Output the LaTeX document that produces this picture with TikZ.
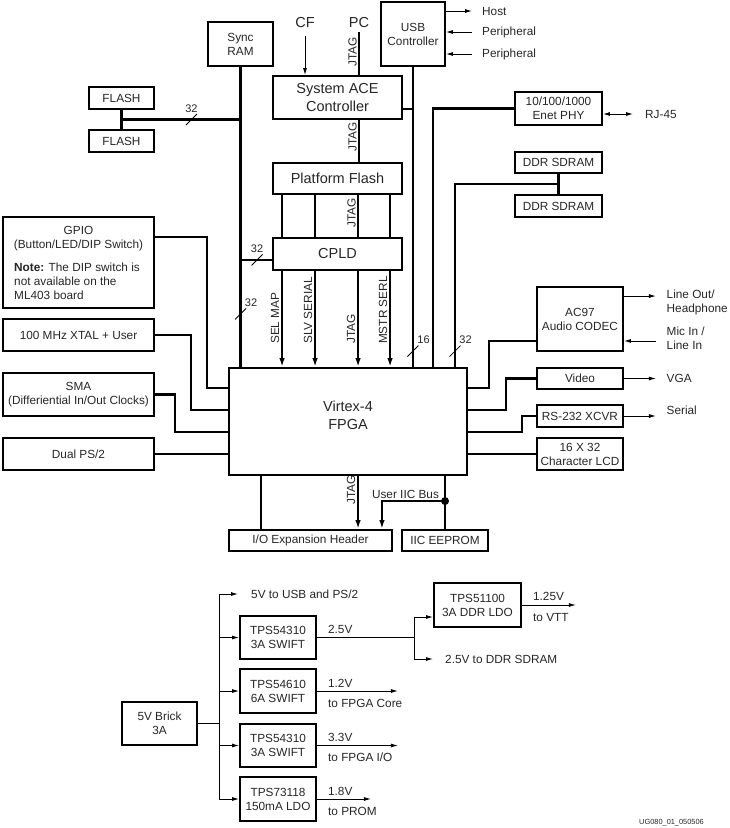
\documentclass[tikz,border=0pt]{standalone}
\usepackage{fontspec}
\setmainfont{Liberation Sans}
\usetikzlibrary{calc}
\usetikzlibrary{arrows.meta}

\tikzset{
	lbl/.style={inner sep=1pt, text=black!85, font=\fontsize{11.8}{14}\selectfont, align=center},
	big/.style={lbl, font=\fontsize{14.5}{18}\selectfont},
	blk/.style={draw, line width=1.9pt, lbl, inner sep=0pt},
	vlbl/.style={lbl, rotate=90, anchor=south west},
	sig/.style={line width=2.2pt},
	sigarr/.style={sig, -{Latex[length=9pt,width=5.5pt]}},
	thinarr/.style={line width=0.9pt, -{Latex[length=7pt,width=4pt]}},
	pw/.style={line width=0.9pt},
	pwarr/.style={pw, -{Latex[length=7pt,width=4pt]}},
	tick/.style={line width=0.8pt},
}

\begin{document}
\begin{tikzpicture}[x=1pt,y=-1pt]
	\useasboundingbox (0,0) rectangle (729,828);

	\node[blk, minimum width=65, minimum height=44]		(sram)	at (240.5,44)	{Sync\\RAM};
	\node[blk, big, minimum width=129, minimum height=43]	(ace)	at (337.5,97.5)	{System ACE\\Controller};
	\node[blk, minimum width=64, minimum height=64]		(usb)	at (413,34)		{USB\\Controller};
	\node[big]	(cf)	at (305,23)	{CF};
	\node[big]	(pc)	at (359,23)	{PC};
	\node[blk, minimum width=65, minimum height=22]		(flash1)	at (121.5,98)	{FLASH};
	\node[blk, minimum width=65, minimum height=22]		(flash2)	at (121.5,141)	{FLASH};
	\node[blk, minimum width=87, minimum height=33]		(enet)	at (558.5,108.5)	{10/100/1000\\Enet PHY};
	\node[blk, big, minimum width=129, minimum height=31]	(pflash)	at (337.5,178.5)	{Platform Flash};
	\node[blk, minimum width=87, minimum height=21]		(ddr1)	at (558.5,162.5)	{DDR SDRAM};
	\node[blk, minimum width=87, minimum height=22]		(ddr2)	at (558.5,206)	{DDR SDRAM};
	\node[blk, big, minimum width=129, minimum height=32]	(cpld)	at (337.5,254)	{CPLD};

	\node[blk, minimum width=151, minimum height=91]		(gpio)	at (78.5,262.5)	{};
	\node[lbl]	()	at (78.5,238.5)	{GPIO\\(Button/LED/DIP Switch)};
	\node[lbl, align=left, anchor=north west]	()	at (13,261.5)	{\textbf{Note:} The DIP switch is\\not available on the\\ML403 board};
	\node[blk, minimum width=151, minimum height=32]		(xtal)	at (78.5,335)	{100 MHz XTAL + User};
	\node[blk, minimum width=151, minimum height=43]		(sma)	at (78.5,394.5)	{SMA\\(Differiential In/Out Clocks)};
	\node[blk, minimum width=151, minimum height=32]		(ps2)	at (78.5,454)	{Dual PS/2};

	\node[blk, minimum width=238, minimum height=107]		(fpga)	at (348,421.5)	{};
	\node[big]	()	at (348,415)	{Virtex-4\\FPGA};

	\node[blk, minimum width=86, minimum height=64]		(ac97)	at (580,319)	{AC97\\Audio CODEC};
	\node[blk, minimum width=86, minimum height=21]		(video)	at (580,378.5)	{Video};
	\node[blk, minimum width=86, minimum height=22]		(rs232)	at (580,416)	{RS-232 XCVR};
	\node[blk, minimum width=86, minimum height=32]		(lcd)	at (580,454)	{16 X 32\\Character LCD};
	\node[blk, minimum width=163, minimum height=21]		(ioexp)	at (310.5,540.5)	{I/O Expansion Header};
	\node[blk, minimum width=86, minimum height=21]		(eeprom)	at (445,540.5)	{IIC EEPROM};

	% configuration path
	\draw[thinarr, shorten <=7pt] (cf) -- (cf |- ace.north);
	\draw[sig, shorten <=3pt] (pc) -- (pc |- ace.north);
	\node[vlbl] at ($(pc |- ace.north)+(-1,-7)$) {JTAG};
	\draw[sig] (pc |- ace.south) -- (pc |- pflash.north);
	\node[vlbl] at ($(pc |- pflash.north)+(-1,-9)$) {JTAG};

	\foreach \dx [count=\i] in {10,43,86,118} {
		\coordinate (pf\i) at ($(pflash.south west)+(\dx,0)$);
		\coordinate (cp\i) at ($(cpld.south west)+(\dx,0)$);
	}
	\foreach \i in {1,...,4} {
		\draw[sig] (pf\i) -- (pf\i |- cpld.north);
		\draw[sigarr] (cp\i) -- (cp\i |- fpga.north);
	}
	\node[vlbl] at ($(pf3 |- cpld.north)+(-1,-8)$) {JTAG};
	\foreach \i/\txt in {1/SEL MAP,2/SLV SERIAL,3/JTAG,4/MSTR SERL}
		\node[vlbl] at ($(cp\i |- fpga.north)+(-1.5,-22)$) {\txt};

	% memory buses
	\coordinate (fj) at ($(flash1.south)!.5!(flash2.north)$);
	\coordinate (cj) at ($(cpld.south west)+(0,-11)$);
	\draw[sig] (sram) -- (sram |- fpga.north);
	\draw[sig] (flash1) -- (flash2);
	\draw[sig] (fj) -- (fj -| sram);
	\draw[sig] (cj) -- (cj -| sram);

	\coordinate (aj) at ($(ace.south east)+(0,-11)$);
	\coordinate (fu) at (usb |- fpga.north);
	\coordinate (fe) at ($(fpga.north west)+(205,0)$);
	\coordinate (fd) at ($(fpga.north west)+(227,0)$);
	\coordinate (dj) at ($(ddr1.south)!.5!(ddr2.north)$);
	\draw[sig] (aj) -- (aj -| usb);
	\draw[sig] (usb) -- (fu);
	\draw[sig] (enet.west) -| (fe);
	\draw[sig] (ddr1) -- (ddr2);
	\draw[sig] (dj) -| (fd);

	\coordinate (tk1) at ($(fj)+(70,0)$);
	\coordinate (tk2) at ($(cj -| sram)+(16.5,0)$);
	\coordinate (tk3) at ($(cj -| sram)+(0,54)$);
	\coordinate (tk4) at ($(fu)+(0,-16)$);
	\coordinate (tk5) at ($(fd)+(0,-16)$);
	\foreach \k/\dx/\t in {1/0/32,2/0/32,3/10.5/32,4/10.5/16,5/10.5/32}
		\draw[tick] ($(tk\k)+(-5.5,5.5)$) -- ($(tk\k)+(5.5,-5.5)$)
			node[lbl, font=\fontsize{11}{13}\selectfont] at ($(tk\k)+(\dx,-11)$) {\t};

	% USB and Ethernet
	\node[lbl, anchor=west]	(host)	at (481,11)	{Host};
	\node[lbl, anchor=west]	(per1)	at (481,32)	{Peripheral};
	\node[lbl, anchor=west]	(per2)	at (481,54)	{Peripheral};
	\draw[thinarr, shorten >=9pt] (host -| usb.east) -- (host.west);
	\draw[thinarr, shorten <=9pt] (per1.west) -- (per1 -| usb.east);
	\draw[thinarr, shorten <=9pt] (per2.west) -- (per2 -| usb.east);
	\node[lbl, anchor=west]	(rj)	at (644,114)	{RJ-45};
	\draw[line width=0.9pt, {Latex[length=7pt,width=4pt]}-{Latex[length=7pt,width=4pt]}, shorten >=11pt] (rj -| enet.east) -- (rj.west);

	% left side
	\draw[sig] ($(gpio.north east)+(0,21)$) -| ($(fpga.north west)+(-21,21)$) -- ($(fpga.north west)+(0,21)$);
	\draw[sig] (xtal.east) -| ($(fpga.north west)+(-37,43)$) -- ($(fpga.north west)+(0,43)$);
	\draw[sig] (sma.east) -| ($(fpga.north west)+(-53,65)$) -- ($(fpga.north west)+(0,65)$);
	\draw[sig] (ps2.east) -- (ps2.east -| fpga.west);

	% right side
	\draw[sig] ($(fpga.north east)+(0,21)$) -- ++(21,0) |- ($(ac97.south west)+(0,-11)$);
	\draw[sig] ($(fpga.north east)+(0,43)$) -- ++(38,0) |- (video.west);
	\draw[sig] ($(fpga.north east)+(0,65)$) -- ++(54,0) |- (rs232.west);
	\draw[sig] (lcd.west) -- (lcd.west -| fpga.east);

	\node[lbl, anchor=west, align=left]	(lout)	at (665.5,302.5)	{Line Out/\\Headphone};
	\node[lbl, anchor=west, align=left]	(micin)	at (665.5,338.5)	{Mic In /\\Line In};
	\node[lbl, anchor=west]	(vga)		at (665.5,378)	{VGA};
	\node[lbl, anchor=west]	(serial)	at (665.5,410)	{Serial};
	\draw[thinarr] ($(ac97.north east)+(0,10)$) -- ++(32,0);
	\draw[thinarr] ($(ac97.south east)+(32,-11)$) -- ($(ac97.south east)+(0,-11)$);
	\draw[thinarr] (video.east) -- ++(32,0);
	\draw[thinarr] (rs232.east) -- ++(32,0);

	% bottom
	\draw[sig] ($(fpga.south west)+(33,0)$) -- ($(ioexp.north west)+(33,0)$);
	\draw[sigarr] ($(fpga.south west)+(130,0)$) -- ($(ioexp.north west)+(130,0)$);
	\node[vlbl] at ($(ioexp.north west)+(128.5,-23)$) {JTAG};
	\coordinate (iic) at ($(eeprom.north)+(0,-28)$);
	\draw[sig] (eeprom.north |- fpga.south) -- (eeprom);
	\fill (iic) circle[radius=4pt];
	\draw[sigarr] (iic) -| ($(ioexp.north east)+(-11,0)$);
	\node[lbl]	(iicbus)	at (405.5,494)	{User IIC Bus};

	% power supply
	\node[blk, minimum width=75, minimum height=43]	(brick)	at (159.5,723.5)	{5V Brick\\3A};
	\node[blk, minimum width=76, minimum height=43]	(tps1)	at (278,637.5)	{TPS54310\\3A SWIFT};
	\node[blk, minimum width=76, minimum height=44]	(tps2)	at (278,691)	{TPS54610\\6A SWIFT};
	\node[blk, minimum width=76, minimum height=43]	(tps3)	at (278,745.5)	{TPS54310\\3A SWIFT};
	\node[blk, minimum width=76, minimum height=44]	(tps4)	at (278,799)	{TPS73118\\150mA LDO};
	\node[blk, minimum width=87, minimum height=44]	(ldo)	at (477.5,605)	{TPS51100\\3A DDR LDO};
	\node[lbl, anchor=west]	(usb5)	at (250,594)	{5V to USB and PS/2};

	\coordinate (pb) at ($(brick.east)+(21,0)$);
	\draw[pw] (brick.east) -- (pb);
	\draw[pw] (pb |- usb5) -- (pb |- tps4);
	\draw[pwarr, shorten >=12pt] (pb |- usb5) -- (usb5.west);
	\foreach \n in {tps1,tps2,tps3,tps4}
		\draw[pwarr] (pb |- \n) -- (\n.west);

	\coordinate (pj) at ($(tps1.east)+(97,0)$);
	\draw[pw] (tps1.east) -- (pj);
	\node[lbl, anchor=base west] at ($(tps1.east)+(10,-4)$) {2.5V};
	\draw[pwarr] (pj) |- ($(ldo.west)+(0,12)$);
	\node[lbl, anchor=west]	(ddrt)	at (444,659)	{2.5V to DDR SDRAM};
	\draw[pwarr, shorten >=11pt] (pj) |- (ddrt.west);

	\draw[pwarr] (ldo.east) -- ++(54,0);
	\node[lbl, anchor=base west] at ($(ldo.east)+(10,-5)$) {1.25V};
	\node[lbl, anchor=base west] at ($(ldo.east)+(10,16)$) {to VTT};

	\draw[pwarr] (tps2.east) -- ++(81,0);
	\node[lbl, anchor=base west] at ($(tps2.east)+(10,-4)$) {1.2V};
	\node[lbl, anchor=base west] at ($(tps2.east)+(10,16)$) {to FPGA Core};
	\draw[pwarr] (tps3.east) -- ++(81,0);
	\node[lbl, anchor=base west] at ($(tps3.east)+(10,-4)$) {3.3V};
	\node[lbl, anchor=base west] at ($(tps3.east)+(10,16)$) {to FPGA I/O};
	\draw[pwarr] (tps4.east) -- ++(54,0);
	\node[lbl, anchor=base west] at ($(tps4.east)+(10,-4)$) {1.8V};
	\node[lbl, anchor=base west] at ($(tps4.east)+(10,16)$) {to PROM};

	\node[lbl, font=\fontsize{7.4}{9}\selectfont, anchor=east] () at (705,823) {UG080\_01\_050506};
\end{tikzpicture}
\end{document}
